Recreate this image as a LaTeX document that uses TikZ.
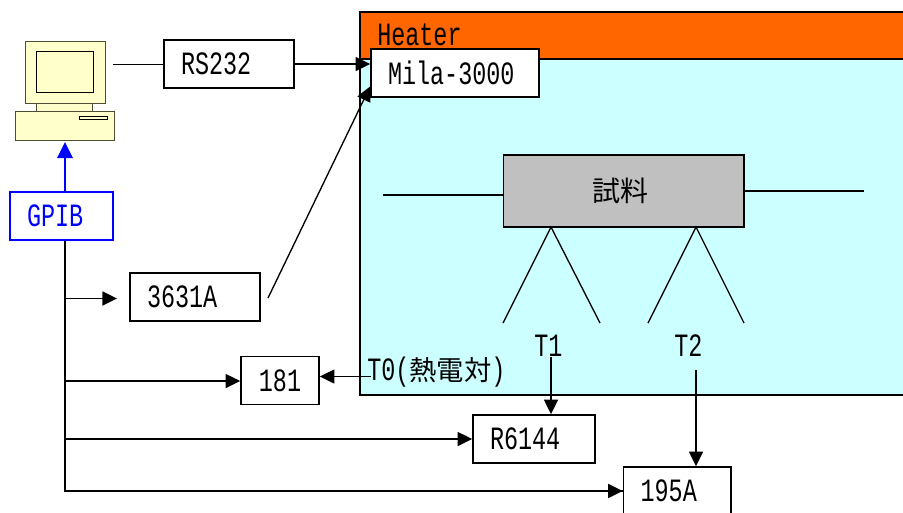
\documentclass[tikz,border=0pt]{standalone}
\usepackage{fontspec}
\usetikzlibrary{arrows.meta,calc}
\newfontfamily\gothicfont[FakeStretch=0.72]{Liberation Mono}
\newfontfamily\jpfont{Noto Sans CJK JP}
\definecolor{ink}{HTML}{000000}
\definecolor{gpibBlue}{HTML}{0000FF}
\definecolor{heaterFill}{HTML}{FF6600}
\definecolor{chamberFill}{HTML}{CCFFFF}
\definecolor{sampleFill}{HTML}{C0C0C0}
\definecolor{pcFill}{HTML}{FFFFCC}
\definecolor{pcEdge}{HTML}{4D4D33}
\tikzset{
    >={Triangle[length=11pt,width=10.5pt]},
    instr box/.style={draw=ink, fill=white, line width=1.2pt, minimum height=36pt,
                     inner xsep=12.75pt, inner ysep=0pt, text width=#1, align=left,
                     font=\gothicfont\fontsize{24.4}{25}\selectfont, text=ink},
    gpib box/.style={instr box=#1, draw=gpibBlue, text=gpibBlue},
    plain label/.style={inner sep=0pt, anchor=west,
                       font=\gothicfont\fontsize{24.4}{25}\selectfont, text=ink},
    wire/.style={ink, line width=1.2pt},
    signal/.style={ink, line width=1.2pt, ->},
    pc part/.style={draw=pcEdge, fill=pcFill, line width=0.7pt, inner sep=0pt},
}
\begin{document}
\begin{tikzpicture}[x=0.75pt,y=-0.75pt]
\useasboundingbox (0,0) rectangle (903,512);

% Heater and the chamber inside it.
\draw[ink, line width=1.4pt, fill=heaterFill] (360,12) rectangle (915,59);
\draw[ink, line width=1.4pt, fill=chamberFill] (360,59) rectangle (915,395);
\node[plain label] (heater) at (377,34.5) {Heater};

% Computer.
\node[pc part, minimum width=42pt, minimum height=6pt] (neck) at (64.75,107) {};
\node[pc part, minimum width=60pt, minimum height=46.1pt] (monitor) at (65,72.25) {};
\node[pc part, draw=ink, minimum width=42.4pt, minimum height=30.8pt] (screen) at (64.75,72) {};
\node[pc part, minimum width=73.9pt, minimum height=21.8pt] (base) at (64.75,125.5) {};
\node[pc part, draw=ink, minimum width=21.4pt, minimum height=2.6pt] (slot) at (93.25,117.75) {};
\coordinate (pc out) at (113,64.5);
\coordinate (pc in) at (65,142);

% Instruments.
\node[instr box=72pt] (rs232) at (229,64) {RS232};
\node[instr box=100.5pt] (mila) at (455,73) {Mila-3000};
\node[gpib box=51.75pt] (gpib) at (61.5,216) {GPIB};
\node[instr box=72pt] (psu) at (195,297) {3631A};
\node[instr box=33pt, align=center] (k181) at (280,380.5) {181};
\node[instr box=66pt] (r6144) at (534,439) {R6144};
\node[instr box=55pt] (k195) at (677.25,491) {195A};

% Sample and its leads.
\node[draw=ink, fill=sampleFill, line width=1.2pt, minimum width=180.4pt, minimum height=54pt,
      inner sep=0pt] (sample) at (623.75,191) {};
\node[inner sep=0pt, font=\jpfont\fontsize{21}{21}\selectfont] (sample label) at (620.5,191) {試料};
\coordinate (lead l) at (383,195);
\coordinate (lead r) at (864,191);
\draw[wire] (lead l) -- (lead l -| sample.west);
\draw[wire] (lead r) -- (lead r -| sample.east);

\coordinate (t1 top) at (551,227);
\coordinate (t2 top) at (696,227);
\foreach \apex/\a/\b in {t1 top/503/600, t2 top/648/744} {
    \draw[ink, line width=1pt] (\a,323) -- (\apex) -- (\b,323);
}
\node[plain label] (t1) at (534,346) {T1};
\node[plain label] (t2) at (674,346) {T2};
\node[plain label] (t0) at (367,372) {T0({\jpfont\fontsize{20.5}{21}\selectfont 熱電対})};

% Connections.
\coordinate (t0 out) at (371,376.5);
\coordinate (t1 out) at (551,357);
\coordinate (t2 out) at (696,370);
\coordinate (psu out) at (268,298);
\draw[wire] (pc out) -- (pc out -| rs232.west);
\draw[signal] (rs232.east) -- (rs232.east -| mila.west);
\draw[ink, line width=1pt, ->] (psu out) -- ($(mila.south west)!0.23!(mila.north west)$);
\draw[signal] (t0 out) -- (t0 out -| k181.east);
\draw[signal] (t1 out) -- (t1 out |- r6144.north);
\draw[signal] (t2 out) -- (t2 out |- k195.north);
\draw[gpibBlue, line width=1.8pt, -{Triangle[length=12pt,width=11.5pt]}] (gpib.north -| pc in) -- (pc in);

% GPIB bus and its branches.
\coordinate (bus end) at (65,491);
\draw[wire] (gpib.south -| bus end) -- (bus end) -- (k195.west |- bus end);
\coordinate (tap a) at (65,298.5);
\coordinate (tap b) at (65,381);
\coordinate (tap c) at (65,439);
\coordinate (tap a end) at (117,298.5);
\draw[signal] (tap a) -- (tap a end);
\draw[signal] (tap b) -- (tap b -| k181.west);
\draw[signal] (tap c) -- (tap c -| r6144.west);
\draw[signal] (bus end) -- (bus end -| k195.west);

\end{tikzpicture}
\end{document}
